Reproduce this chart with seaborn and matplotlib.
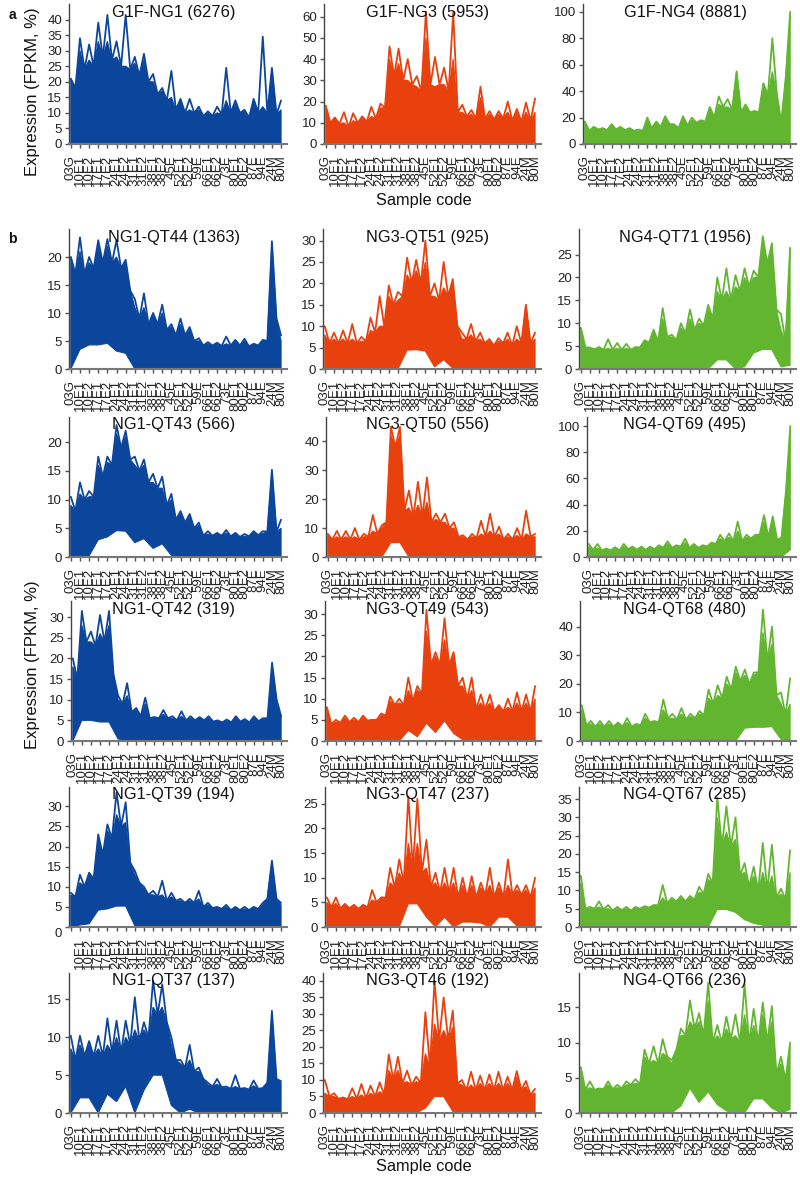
import numpy as np
import pandas as pd
import matplotlib
matplotlib.use("Agg")
import matplotlib.pyplot as plt
import seaborn as sns

sns.set_theme(style="ticks")
plt.rcParams['font.family'] = ['Liberation Sans', 'DejaVu Sans']

samples = ['03G', '10E1', '10E2', '17E1', '17E2', '24E1', '24E2', '31E1', '31E2', '38E1', '38E2', '45E',
           '52E1', '52E2', '59E', '66E1', '66E2', '73E', '80E1', '80E2', '87E', '94E', '24M', '80M']

# top = highest single line at each sample, mass = top of the dense band,
# dip = value between two samples, low = bottom of the dense band
ng1_top = [21,34,32,39,41.5,33,41.5,28,29,22.5,18,23.5,14.5,14.5,12,10.5,12,24.5,14,11,14.5,34.5,24.5,14]
ng1_mass = [21,30,27,33,33,28,25,26,27,20,17,15,14,11,11,10,10,14,13,10.5,14,12,24,11]
ng1_dip = [18,24,25,28,27,25,24,22,20,16,14,11,10,10,9,9,9.5,10,10,8.5,10,10,9.5]
ng1_low = [0]*24

ng3_top = [18,12.5,15,14.5,13,17.5,19,46,45,40,32,62,41,36,62,18.5,16,27,15.5,15.5,20,16.5,19.5,21.5]
ng3_mass = [17,12,10,11,12,13,17,40,38,30,27,50,27,28,40,15,14,22,14,14,15,15,15,15]
ng3_dip = [10,9.5,8,10,10.5,12,17,32,30,28,25,28,28,25,15,13,12,12,11.5,12,11,10.5,11]
ng3_low = [0]*24

ng4_top = [17,13,12,15,13,12,11,20,17,21,15,21,20,18,28,36,34,55,30,25,46,80,16,100]
ng4_mass = [17,13,12,14,13,12,10,18,16,20,14,20,18,18,28,30,28,55,28,24,46,55,16,98]
ng4_dip = [10,11,10.5,11,10.5,10,10,12,13,15,12,14,16,17,20,28,26,24,24,24,37,38,50]
ng4_low = [0]*24

qt44_top = [20,23.5,20,23,23.2,23,19.5,12.5,13.5,10,11.5,8,9,7.5,5.5,4.8,4.7,5.8,5.2,5.4,4.5,5.2,22.8,6]
qt44_mass = [20,21,19,22,22,20,19,11,11,9.5,10,7.5,8,7,5,4.5,4.5,4.5,5,5,4.5,5,22.5,5]
qt44_dip = [17,17,18,19,19,18,14,9,8,8,7,6,6,5,4.2,4.2,4.1,4.2,4.2,4,4.2,5,9]
qt44_low = [0,3.5,4.3,4.3,4.6,3.2,2.8] + [0]*17

qt51_top = [10,8.5,9,10.5,7.5,12,17,19.5,18,26,25.5,30,20,25,21,8.5,10.5,8.5,7,7.2,8.5,10,15,8.5]
qt51_mass = [8,7,7,7,6.5,9,10,17,16,22,23,25,17,19,20,7,8,7,6.5,6.5,7,7,15,7]
qt51_dip = [6,6,6,6,6.5,8.5,10,15,17,20,20,17,16,17,10,7,6.5,6,5.5,6,5.5,6,6]
qt51_low = [0]*9 + [4.4,4.5,4.2,.5,2.2,.2] + [0]*9

qt71_top = [9,4.7,4.8,6.5,5.7,5.5,4.8,6.3,8.6,13.3,7.5,10,13,11,14,20,22,20.5,22,21.5,29,27.5,12,26.5]
qt71_mass = [9,4.5,4.5,4.5,4.5,4.5,4.7,6,8,11,7,9,11,10,13,17,17,18,20,20,28,26,8.5,26]
qt71_dip = [4.7,4.3,4.2,4.2,4.2,4.2,4.7,5.8,6,7,6.3,7.8,8.5,9.5,11,15,15,17,18,20,23,13,6]
qt71_low = [0]*15 + [2,2,0,.5,3.5,4.3,4.2,.5,.8]

qt43_top = [10.5,13,11.5,17.5,17.5,23,22,17.5,17,14.5,14,11,8,7.5,6,4.5,4.2,4.7,4.2,4,4.5,4.5,15.2,6.5]
qt43_mass = [9,11,10.5,16,16.5,21.5,21,16,16,13,12,10,7.5,7,5.5,4,4,4.2,4,3.6,4.2,4.1,15,5]
qt43_dip = [8,10,10.5,14,16,19,17,15,13,12,9,6.5,6,5,3.7,3.7,3.7,3.6,3.5,3.6,3.8,4.4,4.4]
qt43_low = [0,.3,.2,3,3.5,4.6,4.5,2.5,3.2,1.5,2.3,.3] + [0]*12

qt50_top = [8,9,9,10,8,14.5,11,45,45,23,26,27.5,15,15,12,7.5,8,12.5,15,10.5,8,10,16,8]
qt50_mass = [7.5,7,7,7,7,9,10,42,42,17,18,19,13,12,10,7,7,8,9,8,7,7.5,8,7]
qt50_dip = [6,6,6,6,7,8,12,38,16,14,14,12,12,10,7,6,6.5,7,7,6,6,6,7]
qt50_low = [0]*7 + [5,5] + [0]*15

qt69_top = [10,10,6.5,7.5,10,8,8,8,9,12,9,14,10,9,11,17,18,27,17,17,32,31,15,100]
qt69_mass = [8,7,6,6.5,8,7,7,7,8,10,8,11,9,8,10,14,15,20,15,16,27,27,14,98]
qt69_dip = [5.5,5,5,5,6,5.5,5.5,6,7,7,8,7,7,8,10,12,12,12,14,17,15,13,50]
qt69_low = [0]*23 + [5.5]

qt42_top = [20,31.5,26.5,30.5,31.5,11,14,8,10.5,5.8,7.5,6,7.2,6,5.8,6,5,5.2,6,5.3,6,5.5,19,6]
qt42_mass = [18,28,24,26,28,10,11,7.5,9,5.5,6.5,5.5,6,5.5,5.5,5.5,4.8,5,5.5,5,5.5,5.3,18,5.8]
qt42_dip = [15,24,23,24,16,9,7,6,5.5,5.5,5.5,5,5,5,5,4.7,4.5,4.5,4.7,4.5,4.8,5.5,10]
qt42_low = [0,5,5,4.6,4.6,.5] + [0]*18

qt49_top = [8,5,6,5.5,6,5,6.5,10.5,10,15,13,31,21,29,21,15,15,11,11,8.5,10,11.5,11,13]
qt49_mass = [8,4.5,5.5,5,5.5,5,6,9.5,9,12,12,26,20,24,20,13,12,9,9,8,8,9,9,10]
qt49_dip = [4,4.3,4.5,4.5,4.8,5,6,8.5,8.5,9.5,11,18,18,18,13,10,7.5,7.5,7,7,7,7,7]
qt49_low = [0]*9 + [2.5,1,4.2,2,4.8,1.8,.3,.4] + [0]*7

qt68_top = [12.5,7,7,7,6.5,8,6,9.5,7,14.5,9.5,11.5,9.5,10.5,18,19.5,22.5,26,25,24,46,40,17,22]
qt68_mass = [11,6,6,6,6,6.5,5.5,8,6.5,11,8,9.5,8.5,9.5,15,16,20,24,23,23,38,34,13,13]
qt68_dip = [5.5,5,5,5,5,5,5.5,6.5,6.5,8,7.5,7.5,8,9,13,15,18,21,20,24,28,16,9]
qt68_low = [0]*18 + [4.5,4.8,4.8,5,.6,0]

qt39_top = [8.5,13,13.5,23,25.5,33.5,31,14,10,9,11.5,8.5,7,7,9,6,5,5.5,5,5,5,6,16.5,6]
qt39_mass = [8,11,13,22,24,28,26,13,9.5,8,8,7.5,6.5,6.5,7,5.5,4.7,5,4.7,4.5,4.7,5.5,16,5.5]
qt39_dip = [7.5,10,12,18,22,25,16,11,8,7.5,6.5,6.5,6,6,5,4.7,4.5,4.2,4.2,4.2,4.5,7,7]
qt39_low = [0,.5,.8,4.2,4.5,5.2,5.2,.3] + [0]*16

qt47_top = [6,6,4.7,4.5,4.5,7.5,6,12,13.7,26.5,26,17.7,11,12,12,10,10.3,9,12,9,13.7,8.5,8.5,10]
qt47_mass = [5,4.8,4.4,4.2,4.4,5.5,5.8,9,11,17,17,12,9,9,9,8.5,8.5,8,8.5,8,8.5,7.5,7.5,8]
qt47_dip = [4,3.8,3.8,3.7,4,5,6,8,9,12,11,8,7,7,6,6,6,6.5,6,6,6.5,6.5,6]
qt47_low = [0]*9 + [4.7,4.7,2,0,2,0,1,1,.8,0,2,2,.2,0,0]

qt67_top = [14,5.5,7,6,5.5,5.5,5.5,5.7,6,11.5,8,8.5,8.5,11,14.5,35.5,33,30,17.5,16.5,23,22.5,10.5,21]
qt67_mass = [12,5,5.5,5,5,5,5.2,5.5,5.8,8,7.5,8,8,9.5,13,30,26,24,15,14,15,14,9,15]
qt67_dip = [5,5,4.8,4.5,4.6,4.5,5,5.3,6,6.5,7,7,7.5,9,12,22,22,14,11,10,10,8,7.5]
qt67_low = [0]*15 + [4.8,4.8,4,2,1,.5] + [0]*3

qt37_top = [10.2,10.2,9.5,10.2,12.5,12.2,12.2,15.3,12,17.5,17,10,7,9,6,4,4.5,3.5,5,3.3,4.3,3.3,13.5,4.2]
qt37_mass = [8.5,9,9,8.5,9,10,10,11,11,14,14,9,6.5,7,5.5,3.7,3.8,3.3,3.5,3.2,3.6,3.2,13,4]
qt37_dip = [7,7.5,7.5,7.5,8,8,9,9.5,10,13,12,7,6,5.5,4.5,3.5,3.4,3.2,3.2,3.1,3.2,4,4.5]
qt37_low = [0,2,2,0,2.5,1.5,3.5,0,3,5,5,1,0,.5] + [0]*10

qt46_top = [10,6,4.7,7.5,8.8,8.3,9.3,17.7,17,12.8,11,30.5,40,35,31,10,12.5,11.3,11.7,12.5,11,12.7,9.7,7.3]
qt46_mass = [6,5,4.5,5,5.5,6,6.5,13,13,9.5,9.5,18,27,25,26,8.5,8.5,9,9,9,9,11,8,6]
qt46_dip = [5,4.3,4.2,4.3,4.5,5,5.5,10,9,8.5,9,14,22,22,9,7,7,7,7,7,7,7,5.5]
qt46_low = [0]*11 + [1.5,5,5,.5] + [0]*9

qt66_top = [6.5,4.5,3.5,4.5,4,4.5,4.8,9,9.5,10.5,7.5,12,16,14.2,18.5,12.5,13.7,14,18.3,14.8,15.7,15.2,8,10]
qt66_mass = [6,3.6,3.4,4,3.6,4,4.2,8,7.5,8.5,7,11,13,13,16,11,12,11,14,12.5,14,13,7,9.5]
qt66_dip = [3.3,3.3,3.4,3.4,3.5,4,4.1,7,7,8,9,11,12,11,10,10,10.5,10,10,10,10,5.5,4.7]
qt66_low = [0]*11 + [1,3.5,1.5,3,1.2,.3,0,0,2,2,.7,0,.5]

colors = ['#0C469C', '#E9410E', '#62B52F']
col_right = [287, 541, 796]
title_x = [173.5, 428, 685]

# title, row, col, axes left px, y max, y ticks, the four series
panels = [
    ('G1F-NG1 (6276)', 0, 0, 69, 45, range(0, 41, 5), ng1_top, ng1_mass, ng1_dip, ng1_low),
    ('G1F-NG3 (5953)', 0, 1, 324, 66, range(0, 61, 10), ng3_top, ng3_mass, ng3_dip, ng3_low),
    ('G1F-NG4 (8881)', 0, 2, 583, 106, range(0, 101, 20), ng4_top, ng4_mass, ng4_dip, ng4_low),
    ('NG1-QT44 (1363)', 1, 0, 69, 25, range(0, 21, 5), qt44_top, qt44_mass, qt44_dip, qt44_low),
    ('NG3-QT51 (925)', 1, 1, 323, 32.7, range(0, 31, 5), qt51_top, qt51_mass, qt51_dip, qt51_low),
    ('NG4-QT71 (1956)', 1, 2, 579, 30.6, range(0, 26, 5), qt71_top, qt71_mass, qt71_dip, qt71_low),
    ('NG1-QT43 (566)', 2, 0, 69, 24.4, range(0, 21, 5), qt43_top, qt43_mass, qt43_dip, qt43_low),
    ('NG3-QT50 (556)', 2, 1, 326, 48.4, range(0, 41, 10), qt50_top, qt50_mass, qt50_dip, qt50_low),
    ('NG4-QT69 (495)', 2, 2, 587, 107, range(0, 101, 20), qt69_top, qt69_mass, qt69_dip, qt69_low),
    ('NG1-QT42 (319)', 3, 0, 71, 33.9, range(0, 31, 5), qt42_top, qt42_mass, qt42_dip, qt42_low),
    ('NG3-QT49 (543)', 3, 1, 325, 33.1, range(0, 31, 5), qt49_top, qt49_mass, qt49_dip, qt49_low),
    ('NG4-QT68 (480)', 3, 2, 580, 49, range(0, 41, 10), qt68_top, qt68_mass, qt68_dip, qt68_low),
    ('NG1-QT39 (194)', 4, 0, 69, 34.8, range(0, 31, 5), qt39_top, qt39_mass, qt39_dip, qt39_low),
    ('NG3-QT47 (237)', 4, 1, 325, 28.4, range(0, 26, 5), qt47_top, qt47_mass, qt47_dip, qt47_low),
    ('NG4-QT67 (285)', 4, 2, 579, 38.3, range(0, 36, 5), qt67_top, qt67_mass, qt67_dip, qt67_low),
    ('NG1-QT37 (137)', 5, 0, 69, 18.5, range(0, 16, 5), qt37_top, qt37_mass, qt37_dip, qt37_low),
    ('NG3-QT46 (192)', 5, 1, 323, 42.4, range(0, 41, 5), qt46_top, qt46_mass, qt46_dip, qt46_low),
    ('NG4-QT66 (236)', 5, 2, 579, 19.9, range(0, 16, 5), qt66_top, qt66_mass, qt66_dip, qt66_low),
]
row_bottom = [144, 369, 557, 741, 927, 1113]
panel_h = 140

W, H = 800, 1178
fig = plt.figure(figsize=(W / 100, H / 100), dpi=100, facecolor='white')


def weave(peaks, dips):
    out = np.empty(47)
    out[0::2] = peaks
    out[1::2] = dips
    return out


tick_pos = np.arange(24)
half_pos = np.arange(47) / 2

for title, row, col, left, ymax, yticks, top, mass, dip, low in panels:
    color = colors[col]
    ax = fig.add_axes([left / W, 1 - row_bottom[row] / H, (col_right[col] - left) / W, panel_h / H])
    ax.set_facecolor('white')

    # dense band first, single highest line on top of it
    mass_edge = weave(mass, dip)
    ax.fill(np.concatenate([half_pos, tick_pos[::-1]]), np.concatenate([mass_edge, low[::-1]]),
            color=color, lw=0.8)
    df = pd.DataFrame({'pos': half_pos, 'expr': weave(top, dip)})
    sns.lineplot(data=df, x='pos', y='expr', color=color, lw=1.3, estimator=None, ax=ax)

    ax.set_xlim(-0.2, 23.65)
    ax.set_ylim(0, ymax)
    ax.set_xticks(tick_pos)
    labels = list(samples)
    if title.startswith('NG1-QT39'):
        labels[0] = ''
    ax.set_xticklabels(labels, rotation=90, fontsize=9.5, color='#222222')
    ax.set_yticks(list(yticks))
    ax.tick_params(axis='x', length=3, width=1, color='#555555', pad=5)
    ax.tick_params(axis='y', length=3, width=1, color='#555555', pad=2, labelsize=9.5, labelcolor='#222222')
    ax.set_xlabel('')
    ax.set_ylabel('')
    sns.despine(ax=ax)
    ax.spines['left'].set_color('#444444')
    ax.spines['left'].set_linewidth(1.0)
    ax.spines['bottom'].set_color('#777777')
    ax.spines['bottom'].set_linewidth(1.5)

    if title.startswith('NG1-QT39'):
        # the zero label sits a little under the axis in the original
        ticklabels = [str(v) for v in yticks]
        ticklabels[0] = ''
        ax.set_yticklabels(ticklabels)
        ax.annotate('0', xy=(0, 0), xycoords='axes fraction', xytext=(-5, -5), textcoords='offset points',
                    ha='right', va='center', fontsize=9.5, color='#222222')

    fig.text(title_x[col] / W, 1 - (row_bottom[row] - panel_h + 8) / H, title, ha='center', va='center',
             fontsize=11.8, color='#111111')

# shared labels
fig.text(12 / W, 1 - 15 / H, 'a', fontsize=10, fontweight='bold', ha='center', va='center', color='#111111')
fig.text(12 / W, 1 - 239 / H, 'b', fontsize=10, fontweight='bold', ha='center', va='center', color='#111111')
fig.text(33 / W, 1 - 92 / H, 'Expression (FPKM, %)', rotation=90, fontsize=12, ha='center', va='center', color='#111111')
fig.text(33 / W, 1 - 665 / H, 'Expression (FPKM, %)', rotation=90, fontsize=12, ha='center', va='center', color='#111111')
fig.text(424 / W, 1 - 201 / H, 'Sample code', fontsize=11.8, ha='center', va='center', color='#111111')
fig.text(424 / W, 1 - 1166 / H, 'Sample code', fontsize=11.8, ha='center', va='center', color='#111111')

fig.savefig('out.png', dpi=100)
